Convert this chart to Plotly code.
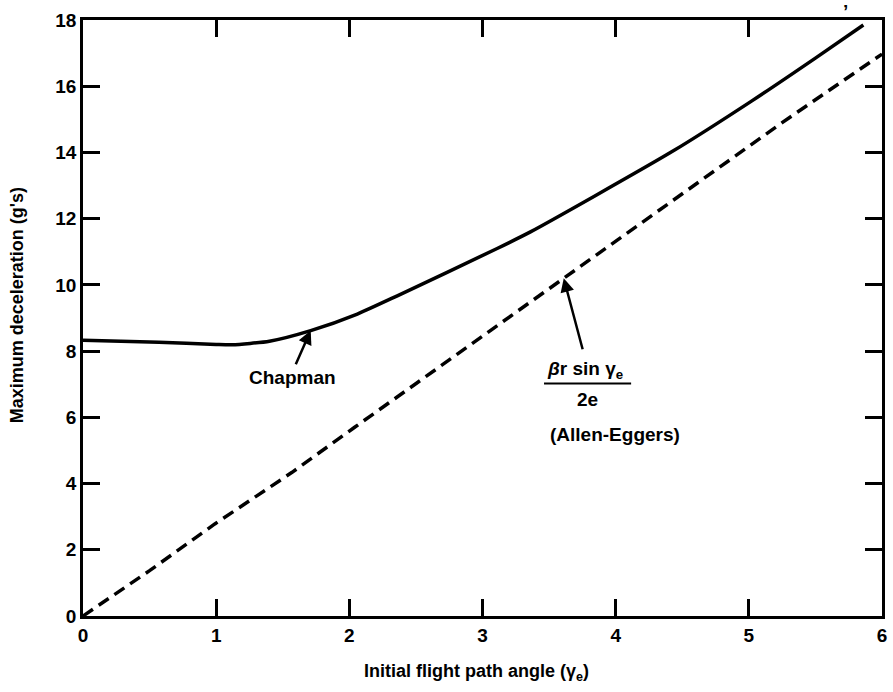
import plotly.graph_objects as go

# Chapman solution: maximum deceleration vs initial flight path angle
chapman_gamma = [0.0, 0.57, 1.0, 1.12, 1.4, 1.71, 2.06, 2.36, 3.11, 3.36, 3.85, 4.43, 5.02, 5.5, 5.86]
chapman_decel = [8.33, 8.27, 8.2, 8.19, 8.3, 8.62, 9.12, 9.67, 11.1, 11.6, 12.7, 14.04, 15.55, 16.85, 17.85]

# Allen-Eggers approximation
ae_gamma = [0.0, 0.5, 0.99, 1.57, 2.04, 3.35, 3.61, 4.43, 5.25, 6.0]
ae_decel = [0.0, 1.37, 2.78, 4.34, 5.7, 9.48, 10.2, 12.55, 14.9, 16.97]

x_ticks = [0, 1, 2, 3, 4, 5, 6]
y_ticks = [0, 2, 4, 6, 8, 10, 12, 14, 16, 18]

FONT = "Liberation Sans, Arial, Helvetica, sans-serif"

fig = go.Figure()
fig.add_trace(go.Scatter(
    x=chapman_gamma, y=chapman_decel, mode="lines",
    line=dict(color="black", width=3.5, shape="spline", smoothing=0.6),
    showlegend=False, hoverinfo="skip"))
fig.add_trace(go.Scatter(
    x=ae_gamma, y=ae_decel, mode="lines",
    line=dict(color="black", width=3.5, dash="12px,7px"),
    showlegend=False, hoverinfo="skip"))

axis_common = dict(
    showgrid=False, zeroline=False, showline=True, linecolor="black",
    linewidth=2.5, mirror="allticks", ticks="inside", ticklen=17, tickwidth=2.5,
    tickcolor="black", layer="above traces",
    tickfont=dict(family=FONT, size=19, color="black", weight="bold"),
)
fig.update_xaxes(range=[0, 6], tickvals=x_ticks, ticktext=[str(v) for v in x_ticks],
                 **axis_common)
fig.update_yaxes(range=[0, 18], tickvals=y_ticks, ticktext=[str(v) for v in y_ticks],
                 **axis_common)

txt = dict(family=FONT, size=19, color="black", weight="bold")

annotations = [
    # axis titles
    dict(text="Initial flight path angle (γ<sub>e</sub>)", xref="paper", yref="paper",
         x=0.492, y=-0.095, showarrow=False, xanchor="center", yanchor="middle",
         font=dict(family=FONT, size=18, color="black", weight="bold")),
    dict(text="Maximum deceleration (g's)", xref="paper", yref="paper",
         x=-0.0815, y=0.521, showarrow=False, textangle=-90,
         xanchor="center", yanchor="middle",
         font=dict(family=FONT, size=18, color="black", weight="bold")),
    # curve labels
    dict(text="Chapman", xref="paper", yref="paper", x=0.262, y=0.4005,
         showarrow=False, xanchor="center", yanchor="middle", font=txt),
    dict(text="<i>β</i>r sin γ<sub>e</sub>", xref="paper", yref="paper", x=0.628, y=0.412,
         showarrow=False, xanchor="center", yanchor="middle", font=txt),
    dict(text="2e", xref="paper", yref="paper", x=0.632, y=0.364,
         showarrow=False, xanchor="center", yanchor="middle", font=txt),
    dict(text="(Allen-Eggers)", xref="paper", yref="paper", x=0.666, y=0.305,
         showarrow=False, xanchor="center", yanchor="middle", font=txt),
    dict(text="’", xref="paper", yref="paper", x=0.954, y=1.014,
         showarrow=False, xanchor="center", yanchor="middle", font=txt),
    # pointer arrows
    dict(text="", x=1.71, y=8.62, ax=1.593, ay=7.56, xref="x", yref="y",
         axref="x", ayref="y", showarrow=True, arrowhead=2, arrowsize=1.1,
         arrowwidth=2.5, arrowcolor="black", standoff=0, startstandoff=0),
    dict(text="", x=3.61, y=10.2, ax=3.755, ay=8.01, xref="x", yref="y",
         axref="x", ayref="y", showarrow=True, arrowhead=2, arrowsize=1.1,
         arrowwidth=2.5, arrowcolor="black", standoff=0, startstandoff=0),
]

fig.update_layout(
    width=893, height=692,
    margin=dict(l=83, r=6, t=20, b=76),
    paper_bgcolor="white", plot_bgcolor="white",
    annotations=annotations,
    shapes=[dict(type="line", xref="paper", yref="paper",
                 x0=0.577, x1=0.686, y0=0.39, y1=0.39,
                 line=dict(color="black", width=2))],
)

fig.write_html("out.html")
